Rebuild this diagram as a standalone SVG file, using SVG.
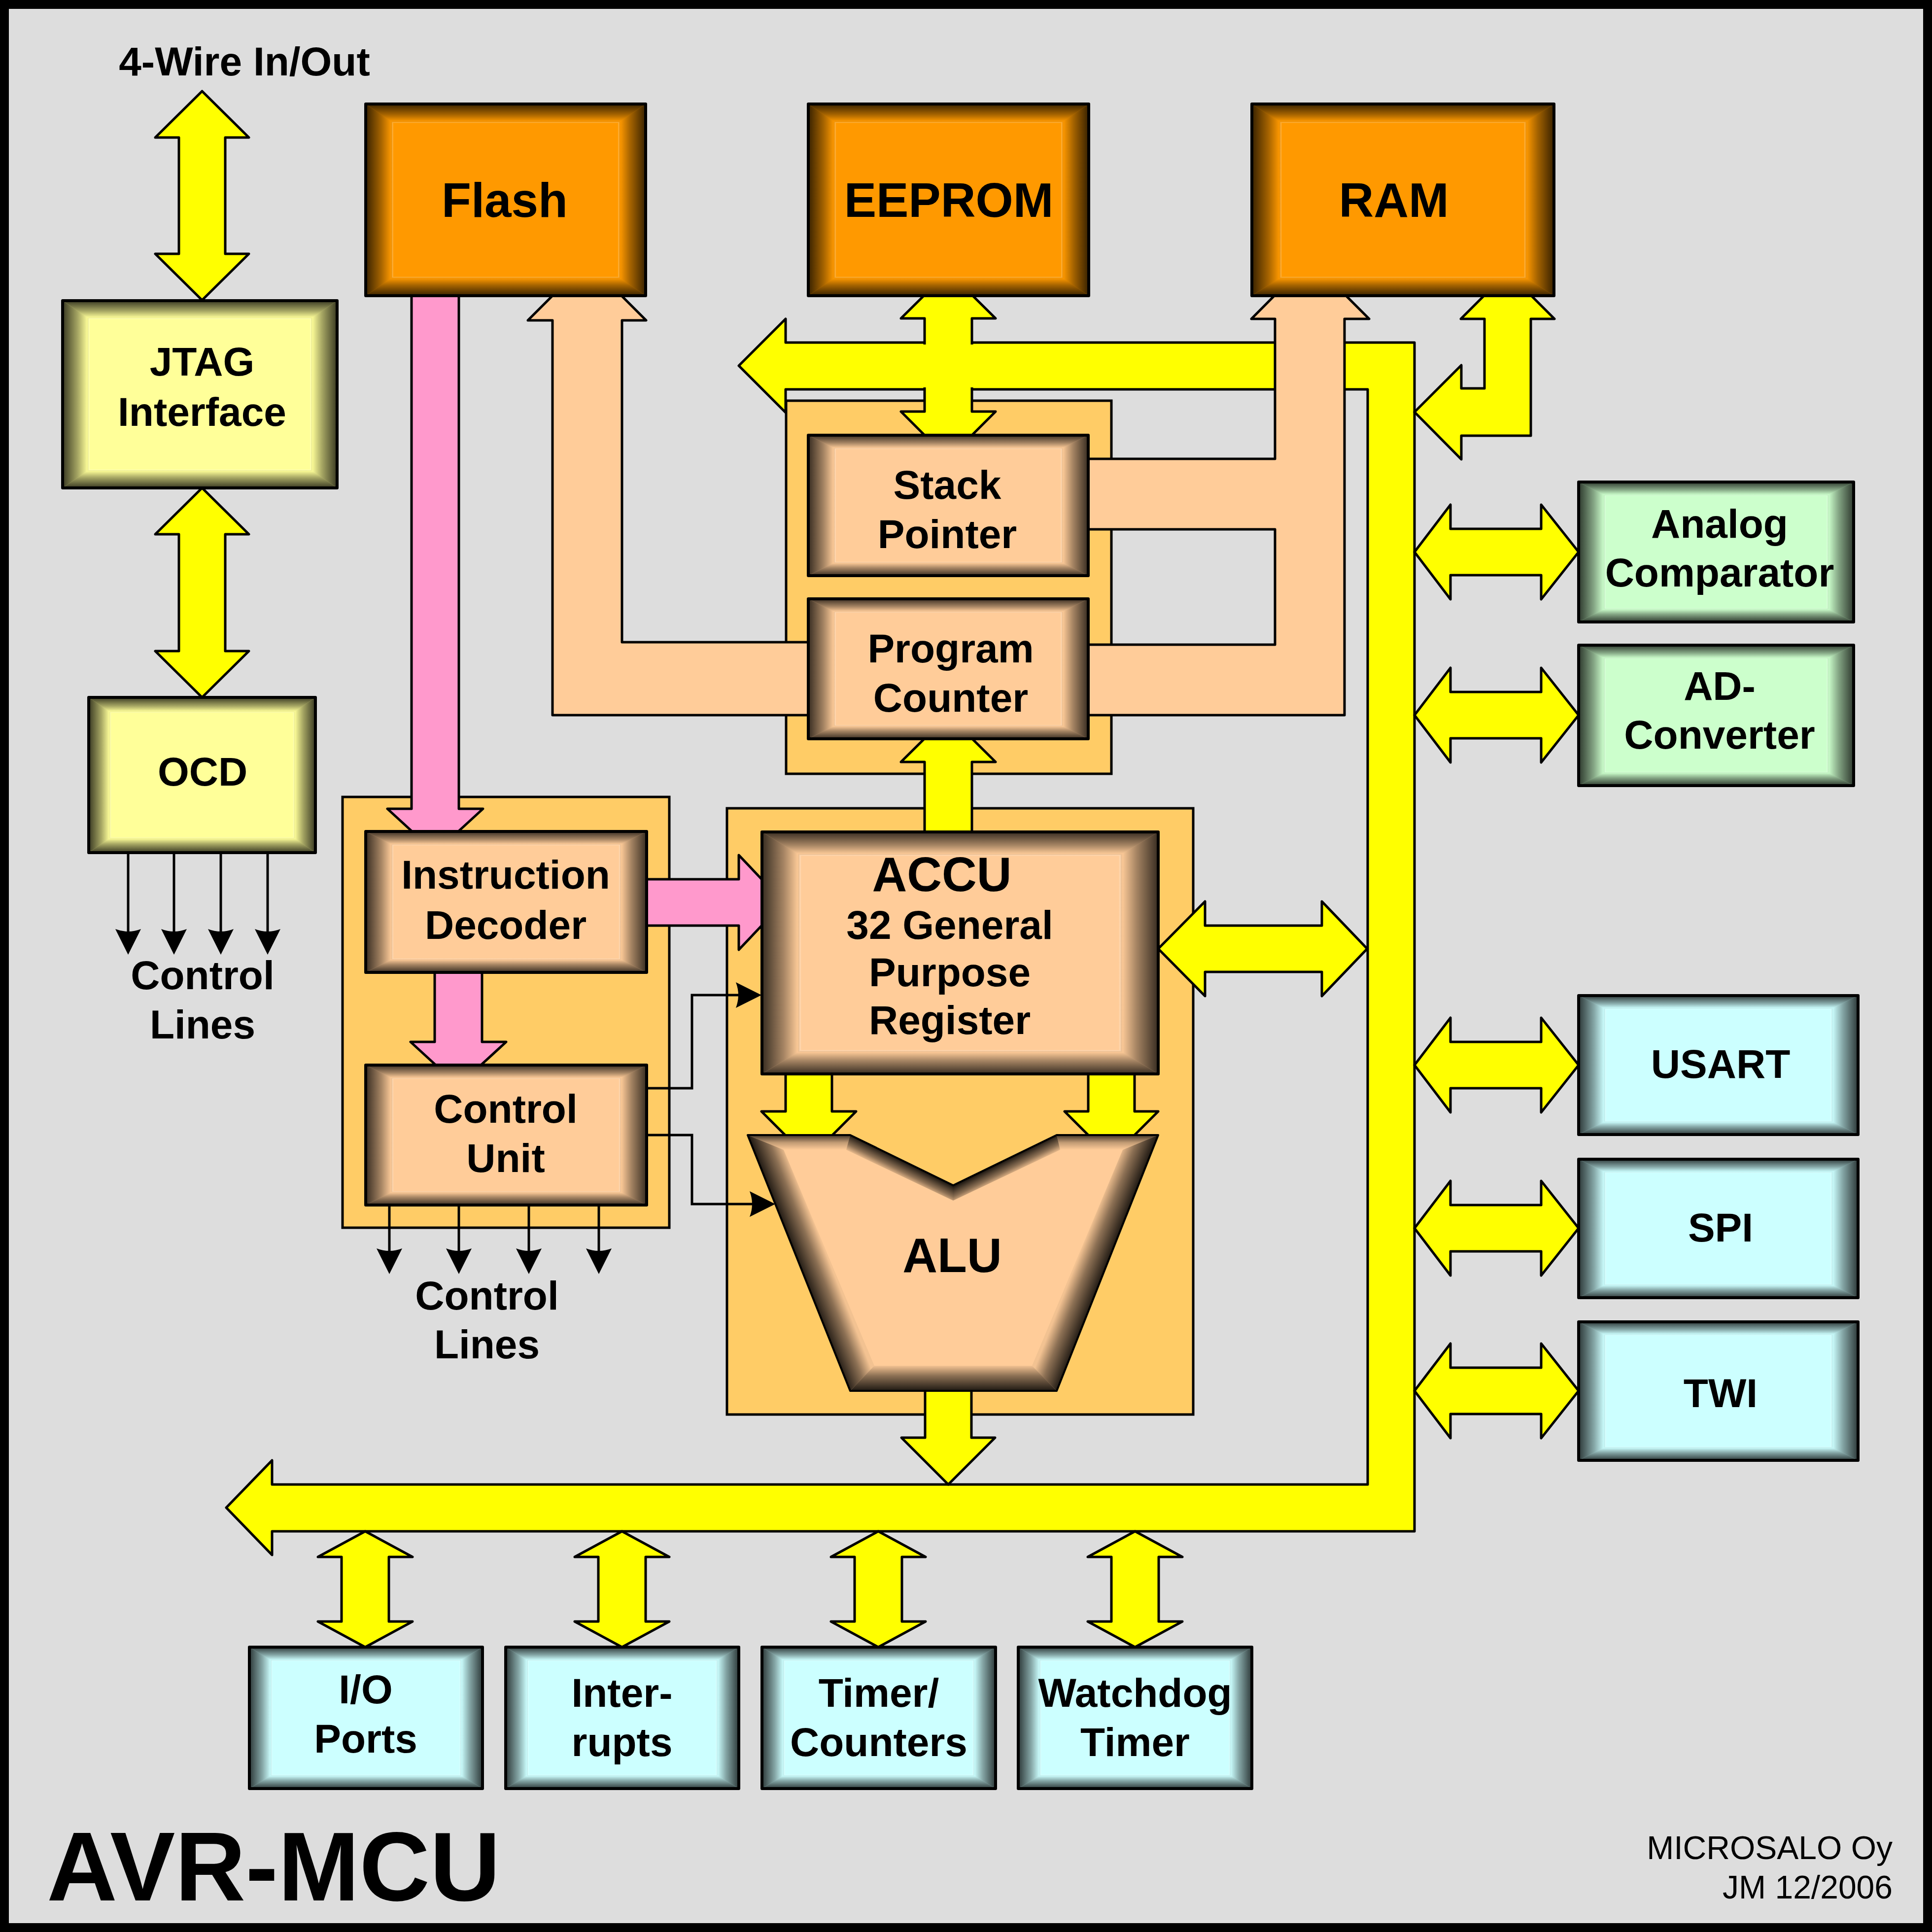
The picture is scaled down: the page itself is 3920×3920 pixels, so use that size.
<svg xmlns="http://www.w3.org/2000/svg" width="3920" height="3920" viewBox="0 0 3920 3920">
<style>
.lbl{font-family:"Liberation Sans",Arial,sans-serif;font-weight:700;font-size:82px;text-anchor:middle;fill:#000}
.big{font-size:98px}
.or{fill:#FF9900}.ye{fill:#FFFF99}.gr{fill:#CCFFCC}.cy{fill:#CCFFFF}.pe{fill:#FFCC99}
.edge{fill:none;stroke:#000;stroke-width:6;stroke-linejoin:round}
.cont{fill:#FFCC66;stroke:#000;stroke-width:5}
.ya{fill:#FFFF00;stroke:#000;stroke-width:5;stroke-linejoin:round}
.pa{fill:#FFCC99;stroke:#000;stroke-width:5;stroke-linejoin:round}
.pk{fill:#FF99CC;stroke:#000;stroke-width:5;stroke-linejoin:round}
.cl{fill:none;stroke:#000;stroke-width:5;marker-end:url(#ah)}
</style>
<defs>
<linearGradient id="gT" x1="0" y1="0" x2="0" y2="1">
<stop offset="0" stop-color="#000" stop-opacity="0.78"/>
<stop offset="0.55" stop-color="#000" stop-opacity="0.35"/>
<stop offset="0.9" stop-color="#000" stop-opacity="0.02"/>
<stop offset="0.96" stop-color="#fff" stop-opacity="0.25"/>
<stop offset="1" stop-color="#fff" stop-opacity="0"/>
</linearGradient>
<linearGradient id="gB" href="#gT" x1="0" y1="1" x2="0" y2="0"/>
<linearGradient id="gL" href="#gT" x1="0" y1="0" x2="1" y2="0"/>
<linearGradient id="gR" href="#gT" x1="1" y1="0" x2="0" y2="0"/>
<linearGradient id="aS">
<stop offset="0" stop-color="#000" stop-opacity="0.88"/>
<stop offset="0.6" stop-color="#000" stop-opacity="0.45"/>
<stop offset="1" stop-color="#000" stop-opacity="0.05"/>
</linearGradient>
<linearGradient id="aS2">
<stop offset="0" stop-color="#000" stop-opacity="0.75"/>
<stop offset="0.5" stop-color="#000" stop-opacity="0.25"/>
<stop offset="1" stop-color="#000" stop-opacity="0"/>
</linearGradient>
<linearGradient id="aL" href="#aS" gradientUnits="userSpaceOnUse" x1="1517" y1="2303" x2="1573" y2="2281"/>
<linearGradient id="aR" href="#aS" gradientUnits="userSpaceOnUse" x1="2350" y1="2303" x2="2294" y2="2281"/>
<linearGradient id="aB" href="#aS" gradientUnits="userSpaceOnUse" x1="0" y1="2822" x2="0" y2="2771"/>
<linearGradient id="aT" href="#aS2" gradientUnits="userSpaceOnUse" x1="0" y1="2303" x2="0" y2="2333"/>
<linearGradient id="aVL" href="#aS" gradientUnits="userSpaceOnUse" x1="1725" y1="2303" x2="1711" y2="2331"/>
<linearGradient id="aVR" href="#aS" gradientUnits="userSpaceOnUse" x1="2144" y1="2303" x2="2158" y2="2331"/>
<symbol id="bev" viewBox="0 0 100 100" preserveAspectRatio="none">
<polygon points="0,0 100,0 90,10 10,10" fill="url(#gT)"/>
<polygon points="0,100 100,100 90,90 10,90" fill="url(#gB)"/>
<polygon points="0,0 10,10 10,90 0,100" fill="url(#gL)"/>
<polygon points="100,0 90,10 90,90 100,100" fill="url(#gR)"/>
</symbol>
<marker id="ah" markerUnits="userSpaceOnUse" viewBox="-56 -30 70 60" markerWidth="70" markerHeight="60" refX="-10" refY="0" orient="auto">
<path d="M0,0 L-52,-26 Q-42,0 -52,26 Z" fill="#000"/>
</marker>
</defs>

<rect x="0" y="0" width="3920" height="3920" fill="#DDDDDD"/>
<rect x="9" y="9" width="3902" height="3902" fill="none" stroke="#000" stroke-width="18"/>

<g id="containers">
<rect id="cont-sp-pc" class="cont" x="1595" y="813" width="660" height="757"/>
<rect id="cont-id-cu" class="cont" x="695" y="1617" width="663" height="874"/>
<rect id="cont-accu-alu" class="cont" x="1475" y="1640" width="946" height="1230"/>
</g>

<g id="connectors">
<polygon class="ya" points="410,185 505,279 457,279 457,515 505,515 410,609 315,515 363,515 363,279 315,279"/>
<polygon class="ya" points="410,990 505,1084 457,1084 457,1321 505,1321 410,1415 315,1321 363,1321 363,1084 315,1084"/>
<line class="cl" x1="260" y1="1730" x2="260" y2="1927"/>
<line class="cl" x1="353" y1="1730" x2="353" y2="1927"/>
<line class="cl" x1="448" y1="1730" x2="448" y2="1927"/>
<line class="cl" x1="543" y1="1730" x2="543" y2="1927"/>

<polygon class="ya" points="1499,742 1594,647 1594,695 2870,695 2870,3107 552,3107 552,3155 459,3059 552,2963 552,3012 2775,3012 2775,790 1594,790 1594,837"/>
<polygon class="ya" points="1924,551 2020,646 1972,646 1972,835 2020,835 1924,931 1828,835 1876,835 1876,646 1828,646"/>
<rect x="1879" y="689" width="90" height="107" fill="#FFFF00"/>
<rect x="1871" y="699" width="106" height="87" fill="#FFFF00"/>

<polygon class="pa" points="2658,527 2778,647 2728,647 2728,1451 2190,1451 2190,1308 2587,1308 2587,1074 2190,1074 2190,931 2587,931 2587,647 2539,647"/>
<polygon class="pa" points="1191,530 1311,650 1262,650 1262,1303 1660,1303 1660,1451 1121,1451 1121,650 1071,650"/>

<polygon class="ya" points="3059,552 3154,647 3106,647 3106,884 2965,884 2965,932 2870,836 2965,741 2965,788 3012,788 3012,647 2964,647"/>

<polygon class="ya" points="2870,1120 2943,1024 2943,1073 3127,1073 3127,1024 3203,1120 3127,1216 3127,1167 2943,1167 2943,1216"/>
<polygon class="ya" points="2870,1451 2943,1355 2943,1404 3127,1404 3127,1355 3203,1451 3127,1547 3127,1498 2943,1498 2943,1547"/>
<polygon class="ya" points="2870,2161 2943,2065 2943,2114 3127,2114 3127,2065 3203,2161 3127,2257 3127,2208 2943,2208 2943,2257"/>
<polygon class="ya" points="2870,2492 2943,2396 2943,2445 3127,2445 3127,2396 3203,2492 3127,2588 3127,2539 2943,2539 2943,2588"/>
<polygon class="ya" points="2870,2822 2943,2726 2943,2775 3127,2775 3127,2726 3203,2822 3127,2918 3127,2869 2943,2869 2943,2918"/>

<polygon class="ya" points="2350,1925 2445,1829 2445,1878 2682,1878 2682,1829 2774,1925 2682,2021 2682,1972 2445,1972 2445,2021"/>
<polygon class="ya" points="1924,1451 2020,1546 1972,1546 1972,1700 1876,1700 1876,1546 1828,1546"/>
<polygon class="ya" points="1594,2160 1688,2160 1688,2255 1737,2255 1641,2351 1545,2255 1594,2255"/>
<polygon class="ya" points="2208,2160 2302,2160 2302,2255 2350,2255 2255,2350 2160,2255 2208,2255"/>
<polygon class="ya" points="1877,2800 1971,2800 1971,2917 2019,2917 1924,3012 1829,2917 1877,2917"/>

<polygon class="ya" points="741,3107 837,3159 789,3159 789,3290 837,3290 741,3342 645,3290 693,3290 693,3159 645,3159"/>
<polygon class="ya" points="1262,3107 1358,3159 1310,3159 1310,3290 1358,3290 1262,3342 1166,3290 1214,3290 1214,3159 1166,3159"/>
<polygon class="ya" points="1782,3107 1878,3159 1830,3159 1830,3290 1878,3290 1782,3342 1686,3290 1734,3290 1734,3159 1686,3159"/>
<polygon class="ya" points="2303,3107 2399,3159 2351,3159 2351,3290 2399,3290 2303,3342 2207,3290 2255,3290 2255,3159 2207,3159"/>

<polygon class="pk" points="835,580 931,580 931,1641 980,1641 883,1730 786,1641 835,1641"/>
<polygon class="pk" points="882,1960 978,1960 978,2114 1027,2114 930,2203 833,2114 882,2114"/>
<polygon class="pk" points="1290,1784 1499,1784 1499,1735 1590,1831 1499,1927 1499,1878 1290,1878"/>

<polyline class="cl" points="1312,2208 1404,2208 1404,2019 1535,2019"/>
<polyline class="cl" points="1312,2303 1404,2303 1404,2443 1563,2443"/>
<line class="cl" x1="790" y1="2445" x2="790" y2="2575"/>
<line class="cl" x1="931" y1="2445" x2="931" y2="2575"/>
<line class="cl" x1="1073" y1="2445" x2="1073" y2="2575"/>
<line class="cl" x1="1215" y1="2445" x2="1215" y2="2575"/>
</g>

<g id="flash">
<rect class="or" x="742" y="211" width="568" height="389"/>
<use href="#bev" x="742" y="211" width="568" height="389"/>
<rect class="edge" x="742" y="211" width="568" height="389"/>
<text class="lbl big" x="1024" y="440">Flash</text>
</g>
<g id="eeprom">
<rect class="or" x="1640" y="211" width="569" height="389"/>
<use href="#bev" x="1640" y="211" width="569" height="389"/>
<rect class="edge" x="1640" y="211" width="569" height="389"/>
<text class="lbl big" x="1925" y="440">EEPROM</text>
</g>
<g id="ram">
<rect class="or" x="2540" y="211" width="613" height="389"/>
<use href="#bev" x="2540" y="211" width="613" height="389"/>
<rect class="edge" x="2540" y="211" width="613" height="389"/>
<text class="lbl big" x="2828" y="440">RAM</text>
</g>
<g id="jtag">
<rect class="ye" x="127" y="610" width="557" height="380"/>
<use href="#bev" x="127" y="610" width="557" height="380"/>
<rect class="edge" x="127" y="610" width="557" height="380"/>
<text class="lbl" x="410" y="762">JTAG</text>
<text class="lbl" x="410" y="864">Interface</text>
</g>
<g id="ocd">
<rect class="ye" x="180" y="1415" width="460" height="315"/>
<use href="#bev" x="180" y="1415" width="460" height="315"/>
<rect class="edge" x="180" y="1415" width="460" height="315"/>
<text class="lbl" x="411" y="1594">OCD</text>
</g>
<g id="analog-comparator">
<rect class="gr" x="3203" y="978" width="558" height="284"/>
<use href="#bev" x="3203" y="978" width="558" height="284"/>
<rect class="edge" x="3203" y="978" width="558" height="284"/>
<text class="lbl" x="3489" y="1091">Analog</text>
<text class="lbl" x="3489" y="1190">Comparator</text>
</g>
<g id="ad-converter">
<rect class="gr" x="3203" y="1309" width="558" height="285"/>
<use href="#bev" x="3203" y="1309" width="558" height="285"/>
<rect class="edge" x="3203" y="1309" width="558" height="285"/>
<text class="lbl" x="3489" y="1420">AD-</text>
<text class="lbl" x="3489" y="1519">Converter</text>
</g>
<g id="usart">
<rect class="cy" x="3203" y="2020" width="567" height="282"/>
<use href="#bev" x="3203" y="2020" width="567" height="282"/>
<rect class="edge" x="3203" y="2020" width="567" height="282"/>
<text class="lbl" x="3491" y="2187">USART</text>
</g>
<g id="spi">
<rect class="cy" x="3203" y="2352" width="567" height="281"/>
<use href="#bev" x="3203" y="2352" width="567" height="281"/>
<rect class="edge" x="3203" y="2352" width="567" height="281"/>
<text class="lbl" x="3491" y="2519">SPI</text>
</g>
<g id="twi">
<rect class="cy" x="3203" y="2682" width="567" height="281"/>
<use href="#bev" x="3203" y="2682" width="567" height="281"/>
<rect class="edge" x="3203" y="2682" width="567" height="281"/>
<text class="lbl" x="3491" y="2855">TWI</text>
</g>
<g id="stack-pointer">
<rect class="pe" x="1640" y="883" width="568" height="285"/>
<use href="#bev" x="1640" y="883" width="568" height="285"/>
<rect class="edge" x="1640" y="883" width="568" height="285"/>
<text class="lbl" x="1922" y="1012">Stack</text>
<text class="lbl" x="1922" y="1112">Pointer</text>
</g>
<g id="program-counter">
<rect class="pe" x="1640" y="1215" width="568" height="284"/>
<use href="#bev" x="1640" y="1215" width="568" height="284"/>
<rect class="edge" x="1640" y="1215" width="568" height="284"/>
<text class="lbl" x="1929" y="1344">Program</text>
<text class="lbl" x="1929" y="1444">Counter</text>
</g>
<g id="instruction-decoder">
<rect class="pe" x="742" y="1687" width="570" height="286"/>
<use href="#bev" x="742" y="1687" width="570" height="286"/>
<rect class="edge" x="742" y="1687" width="570" height="286"/>
<text class="lbl" x="1026" y="1803">Instruction</text>
<text class="lbl" x="1026" y="1905">Decoder</text>
</g>
<g id="control-unit">
<rect class="pe" x="742" y="2161" width="570" height="284"/>
<use href="#bev" x="742" y="2161" width="570" height="284"/>
<rect class="edge" x="742" y="2161" width="570" height="284"/>
<text class="lbl" x="1026" y="2278">Control</text>
<text class="lbl" x="1026" y="2378">Unit</text>
</g>
<g id="accu">
<rect class="pe" x="1546" y="1688" width="804" height="491"/>
<use href="#bev" x="1546" y="1688" width="804" height="491"/>
<rect class="edge" x="1546" y="1688" width="804" height="491"/>
<text class="lbl big" x="1911" y="1808">ACCU</text>
<text class="lbl" x="1927" y="1905">32 General</text>
<text class="lbl" x="1927" y="2001">Purpose</text>
<text class="lbl" x="1927" y="2098">Register</text>
</g>
<g id="alu">
<polygon class="pe" points="1517,2303 1725,2303 1934,2405 2144,2303 2350,2303 2144,2822 1725,2822"/>
<polygon points="1517,2303 1725,2303 1717,2333 1590,2333" fill="url(#aT)"/>
<polygon points="2144,2303 2350,2303 2278,2333 2151,2333" fill="url(#aT)"/>
<polygon points="1725,2303 1934,2405 1934,2436 1717,2333" fill="url(#aVL)"/>
<polygon points="1934,2405 2144,2303 2151,2333 1934,2436" fill="url(#aVR)"/>
<polygon points="1517,2303 1590,2333 1774,2771 1725,2822" fill="url(#aL)"/>
<polygon points="2350,2303 2144,2822 2094,2771 2278,2333" fill="url(#aR)"/>
<polygon points="1725,2822 1774,2771 2094,2771 2144,2822" fill="url(#aB)"/>
<polygon points="1517,2303 1725,2303 1934,2405 2144,2303 2350,2303 2144,2822 1725,2822" fill="none" stroke="#000" stroke-width="4" stroke-linejoin="round"/>
<text class="lbl big" x="1932" y="2581">ALU</text>
</g>
<g id="io-ports">
<rect class="cy" x="506" y="3342" width="473" height="287"/>
<use href="#bev" x="506" y="3342" width="473" height="287"/>
<rect class="edge" x="506" y="3342" width="473" height="287"/>
<text class="lbl" x="742" y="3456">I/O</text>
<text class="lbl" x="742" y="3556">Ports</text>
</g>
<g id="interrupts">
<rect class="cy" x="1026" y="3342" width="473" height="287"/>
<use href="#bev" x="1026" y="3342" width="473" height="287"/>
<rect class="edge" x="1026" y="3342" width="473" height="287"/>
<text class="lbl" x="1262" y="3463">Inter-</text>
<text class="lbl" x="1262" y="3563">rupts</text>
</g>
<g id="timer-counters">
<rect class="cy" x="1546" y="3342" width="474" height="287"/>
<use href="#bev" x="1546" y="3342" width="474" height="287"/>
<rect class="edge" x="1546" y="3342" width="474" height="287"/>
<text class="lbl" x="1783" y="3463">Timer/</text>
<text class="lbl" x="1783" y="3563">Counters</text>
</g>
<g id="watchdog-timer">
<rect class="cy" x="2066" y="3342" width="474" height="287"/>
<use href="#bev" x="2066" y="3342" width="474" height="287"/>
<rect class="edge" x="2066" y="3342" width="474" height="287"/>
<text class="lbl" x="2303" y="3463">Watchdog</text>
<text class="lbl" x="2303" y="3563">Timer</text>
</g>

<g id="labels">
<text class="lbl" x="496" y="153">4-Wire In/Out</text>
<text class="lbl" x="411" y="2007">Control</text>
<text class="lbl" x="411" y="2107">Lines</text>
<text class="lbl" x="988" y="2657">Control</text>
<text class="lbl" x="988" y="2756">Lines</text>
<text x="95" y="3856" font-family="Liberation Sans, Arial, sans-serif" font-weight="700" font-size="198" fill="#000">AVR-MCU</text>
<text x="3840" y="3772" font-family="Liberation Sans, Arial, sans-serif" font-size="66" text-anchor="end" fill="#000">MICROSALO Oy</text>
<text x="3840" y="3852" font-family="Liberation Sans, Arial, sans-serif" font-size="66" text-anchor="end" fill="#000">JM 12/2006</text>
</g>
</svg>
